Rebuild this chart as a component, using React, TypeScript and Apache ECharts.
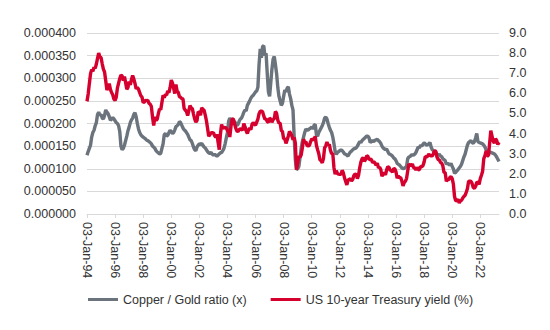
import React, { useEffect, useRef } from "react";
import * as echarts from "echarts";

// Monthly observations, Jan-1994 .. May-2023
const copperGoldRatio: number[] = [
  // 1994
  1.30e-4, 1.38e-4, 1.45e-4, 1.52e-4, 1.70e-4, 1.80e-4, 1.85e-4, 1.95e-4, 2.02e-4, 2.20e-4, 2.25e-4, 2.18e-4,
  // 1995
  2.20e-4, 2.12e-4, 2.10e-4, 2.18e-4, 2.30e-4, 2.25e-4, 2.22e-4, 2.15e-4, 2.07e-4, 2.10e-4, 2.13e-4, 2.10e-4,
  // 1996
  2.06e-4, 2.02e-4, 2.00e-4, 1.95e-4, 1.82e-4, 1.50e-4, 1.42e-4, 1.45e-4, 1.52e-4, 1.62e-4, 1.72e-4, 1.84e-4,
  // 1997
  1.92e-4, 2.02e-4, 2.08e-4, 2.12e-4, 2.20e-4, 2.24e-4, 2.15e-4, 2.00e-4, 1.88e-4, 1.80e-4, 1.75e-4, 1.72e-4,
  // 1998
  1.70e-4, 1.68e-4, 1.66e-4, 1.63e-4, 1.62e-4, 1.60e-4, 1.58e-4, 1.55e-4, 1.50e-4, 1.48e-4, 1.45e-4, 1.40e-4,
  // 1999
  1.37e-4, 1.35e-4, 1.33e-4, 1.34e-4, 1.45e-4, 1.55e-4, 1.75e-4, 1.78e-4, 1.72e-4, 1.74e-4, 1.80e-4, 1.85e-4,
  // 2000
  1.82e-4, 1.78e-4, 1.80e-4, 1.86e-4, 1.93e-4, 1.95e-4, 1.98e-4, 2.04e-4, 2.02e-4, 1.96e-4, 1.90e-4, 1.86e-4,
  // 2001
  1.84e-4, 1.80e-4, 1.76e-4, 1.70e-4, 1.64e-4, 1.62e-4, 1.56e-4, 1.48e-4, 1.42e-4, 1.40e-4, 1.48e-4, 1.52e-4,
  // 2002
  1.55e-4, 1.54e-4, 1.56e-4, 1.52e-4, 1.48e-4, 1.46e-4, 1.42e-4, 1.38e-4, 1.35e-4, 1.34e-4, 1.36e-4, 1.32e-4,
  // 2003
  1.30e-4, 1.32e-4, 1.30e-4, 1.28e-4, 1.30e-4, 1.33e-4, 1.35e-4, 1.36e-4, 1.40e-4, 1.45e-4, 1.55e-4, 1.68e-4,
  // 2004
  1.80e-4, 2.05e-4, 2.12e-4, 2.08e-4, 2.00e-4, 2.02e-4, 2.05e-4, 2.00e-4, 1.96e-4, 1.98e-4, 2.05e-4, 2.10e-4,
  // 2005
  2.12e-4, 2.18e-4, 2.25e-4, 2.30e-4, 2.28e-4, 2.40e-4, 2.45e-4, 2.50e-4, 2.56e-4, 2.60e-4, 2.62e-4, 2.66e-4,
  // 2006
  2.70e-4, 2.72e-4, 2.80e-4, 3.30e-4, 3.65e-4, 3.45e-4, 3.70e-4, 3.72e-4, 3.50e-4, 3.55e-4, 3.10e-4, 2.70e-4,
  // 2007
  2.60e-4, 2.90e-4, 3.20e-4, 3.42e-4, 3.48e-4, 3.30e-4, 3.10e-4, 2.80e-4, 2.60e-4, 2.50e-4, 2.40e-4, 2.45e-4,
  // 2008
  2.60e-4, 2.74e-4, 2.70e-4, 2.78e-4, 2.81e-4, 2.65e-4, 2.55e-4, 2.40e-4, 2.30e-4, 1.70e-4, 1.20e-4, 0.98e-4,
  // 2009
  1.00e-4, 1.05e-4, 1.25e-4, 1.45e-4, 1.60e-4, 1.70e-4, 1.80e-4, 1.88e-4, 1.85e-4, 1.86e-4, 1.88e-4, 1.90e-4,
  // 2010
  1.92e-4, 1.88e-4, 1.96e-4, 1.98e-4, 1.75e-4, 1.72e-4, 1.80e-4, 1.85e-4, 1.90e-4, 1.95e-4, 2.02e-4, 2.12e-4,
  // 2011
  2.14e-4, 2.10e-4, 2.00e-4, 1.92e-4, 1.85e-4, 1.80e-4, 1.70e-4, 1.55e-4, 1.38e-4, 1.32e-4, 1.36e-4, 1.38e-4,
  // 2012
  1.40e-4, 1.42e-4, 1.40e-4, 1.37e-4, 1.33e-4, 1.32e-4, 1.30e-4, 1.28e-4, 1.33e-4, 1.37e-4, 1.39e-4, 1.42e-4,
  // 2013
  1.44e-4, 1.45e-4, 1.46e-4, 1.50e-4, 1.55e-4, 1.60e-4, 1.58e-4, 1.62e-4, 1.65e-4, 1.67e-4, 1.70e-4, 1.72e-4,
  // 2014
  1.72e-4, 1.68e-4, 1.58e-4, 1.60e-4, 1.62e-4, 1.60e-4, 1.63e-4, 1.64e-4, 1.65e-4, 1.62e-4, 1.60e-4, 1.56e-4,
  // 2015
  1.50e-4, 1.46e-4, 1.44e-4, 1.42e-4, 1.44e-4, 1.38e-4, 1.33e-4, 1.32e-4, 1.30e-4, 1.28e-4, 1.24e-4, 1.22e-4,
  // 2016
  1.18e-4, 1.12e-4, 1.10e-4, 1.08e-4, 1.05e-4, 1.02e-4, 1.00e-4, 1.01e-4, 1.03e-4, 1.05e-4, 1.22e-4, 1.26e-4,
  // 2017
  1.27e-4, 1.30e-4, 1.31e-4, 1.30e-4, 1.32e-4, 1.36e-4, 1.42e-4, 1.48e-4, 1.46e-4, 1.52e-4, 1.50e-4, 1.54e-4,
  // 2018
  1.57e-4, 1.55e-4, 1.52e-4, 1.53e-4, 1.55e-4, 1.58e-4, 1.48e-4, 1.42e-4, 1.40e-4, 1.38e-4, 1.36e-4, 1.32e-4,
  // 2019
  1.30e-4, 1.32e-4, 1.28e-4, 1.27e-4, 1.22e-4, 1.20e-4, 1.18e-4, 1.10e-4, 1.12e-4, 1.10e-4, 1.08e-4, 1.12e-4,
  // 2020
  1.05e-4, 1.00e-4, 0.90e-4, 0.92e-4, 0.95e-4, 0.98e-4, 1.02e-4, 1.05e-4, 1.10e-4, 1.18e-4, 1.26e-4, 1.32e-4,
  // 2021
  1.42e-4, 1.52e-4, 1.58e-4, 1.60e-4, 1.62e-4, 1.58e-4, 1.56e-4, 1.60e-4, 1.68e-4, 1.78e-4, 1.60e-4, 1.58e-4,
  // 2022
  1.57e-4, 1.56e-4, 1.55e-4, 1.52e-4, 1.48e-4, 1.42e-4, 1.38e-4, 1.40e-4, 1.36e-4, 1.36e-4, 1.35e-4, 1.34e-4,
  // 2023
  1.33e-4, 1.30e-4, 1.26e-4, 1.21e-4, 1.16e-4,
];

const us10yYield: number[] = [
  // 1994
  5.60, 5.97, 6.48, 6.97, 7.18, 7.10, 7.30, 7.24, 7.46, 7.74, 8.00, 7.81,
  // 1995
  7.78, 7.47, 7.20, 7.06, 6.63, 6.17, 6.28, 6.49, 6.20, 6.04, 5.93, 5.71,
  // 1996
  5.65, 5.81, 6.27, 6.51, 6.74, 6.91, 6.87, 6.64, 6.83, 6.53, 6.20, 6.30,
  // 1997
  6.58, 6.42, 6.69, 6.89, 6.71, 6.49, 6.22, 6.30, 6.21, 6.03, 5.88, 5.81,
  // 1998
  5.54, 5.57, 5.65, 5.64, 5.65, 5.50, 5.46, 5.34, 4.81, 4.40, 4.83, 4.65,
  // 1999
  4.72, 5.00, 5.23, 5.18, 5.54, 5.90, 5.79, 5.94, 5.92, 6.11, 6.03, 6.28,
  // 2000
  6.66, 6.52, 6.26, 5.99, 6.44, 6.10, 6.05, 5.83, 5.80, 5.74, 5.72, 5.24,
  // 2001
  5.16, 5.10, 4.89, 5.14, 5.39, 5.28, 5.24, 4.97, 4.73, 4.57, 4.65, 5.09,
  // 2002
  5.04, 4.91, 5.28, 5.21, 5.16, 4.93, 4.65, 4.26, 3.87, 3.94, 4.05, 4.03,
  // 2003
  4.05, 3.90, 3.81, 3.96, 3.57, 3.20, 3.98, 4.45, 4.27, 4.29, 4.30, 4.27,
  // 2004
  4.15, 4.08, 3.83, 4.35, 4.72, 4.73, 4.50, 4.28, 4.13, 4.10, 4.19, 4.23,
  // 2005
  4.22, 4.17, 4.50, 4.34, 4.14, 4.00, 4.18, 4.26, 4.20, 4.46, 4.54, 4.47,
  // 2006
  4.42, 4.57, 4.72, 4.99, 5.11, 5.11, 5.09, 4.88, 4.72, 4.73, 4.60, 4.56,
  // 2007
  4.76, 4.72, 4.56, 4.69, 4.75, 5.10, 5.00, 4.67, 4.52, 4.53, 4.15, 4.10,
  // 2008
  3.74, 3.74, 3.51, 3.68, 3.88, 4.10, 4.01, 3.89, 3.69, 3.81, 3.53, 2.20,
  // 2009
  2.52, 2.87, 2.82, 2.93, 3.29, 3.72, 3.56, 3.59, 3.40, 3.39, 3.40, 3.59,
  // 2010
  3.73, 3.69, 3.73, 3.85, 3.42, 3.20, 3.01, 2.70, 2.65, 2.54, 2.76, 3.29,
  // 2011
  3.39, 3.58, 3.41, 3.46, 3.17, 3.00, 3.00, 2.30, 1.98, 2.15, 2.01, 1.98,
  // 2012
  1.97, 1.97, 2.17, 2.05, 1.80, 1.62, 1.45, 1.68, 1.72, 1.75, 1.65, 1.72,
  // 2013
  1.91, 1.98, 1.96, 1.76, 1.93, 2.30, 2.58, 2.74, 2.81, 2.62, 2.72, 2.90,
  // 2014
  2.86, 2.71, 2.72, 2.71, 2.56, 2.60, 2.54, 2.42, 2.53, 2.30, 2.33, 2.21,
  // 2015
  1.88, 1.98, 2.04, 1.94, 2.20, 2.36, 2.32, 2.17, 2.17, 2.07, 2.26, 2.24,
  // 2016
  2.09, 1.78, 1.89, 1.81, 1.81, 1.64, 1.40, 1.56, 1.63, 1.76, 2.14, 2.49,
  // 2017
  2.43, 2.42, 2.48, 2.30, 2.30, 2.19, 2.32, 2.21, 2.20, 2.36, 2.35, 2.40,
  // 2018
  2.58, 2.86, 2.84, 2.87, 2.98, 2.91, 2.89, 2.89, 3.00, 3.15, 3.12, 2.83,
  // 2019
  2.71, 2.68, 2.57, 2.53, 2.40, 2.07, 2.06, 1.63, 1.70, 1.71, 1.81, 1.86,
  // 2020
  1.76, 1.50, 0.87, 0.66, 0.67, 0.73, 0.55, 0.65, 0.68, 0.79, 0.87, 0.93,
  // 2021
  1.08, 1.26, 1.61, 1.64, 1.62, 1.52, 1.32, 1.28, 1.37, 1.58, 1.56, 1.47,
  // 2022
  1.76, 1.93, 2.13, 2.75, 2.90, 3.14, 2.90, 2.90, 3.52, 4.15, 3.89, 3.62,
  // 2023
  3.53, 3.75, 3.66, 3.46, 3.57,
];

const monthNames = ["Jan", "Feb", "Mar", "Apr", "May", "Jun", "Jul", "Aug", "Sep", "Oct", "Nov", "Dec"];
const startYear = 1994;
const categories: string[] = copperGoldRatio.map((_, i) => {
  const y = startYear + Math.floor(i / 12);
  return `03-${monthNames[i % 12]}-${String(y % 100).padStart(2, "0")}`;
});

const seriesNames = ["Copper / Gold ratio (x)", "US 10-year Treasury yield (%)"];
const FONT = "'Liberation Sans', Arial, sans-serif";
const TXT = "#333333";
const GREY = "#6b737c";
const RED = "#d6002f";

export default function App() {
  const ref = useRef<HTMLDivElement>(null);
  useEffect(() => {
    if (!ref.current) return;
    const chart = echarts.init(ref.current, null, { renderer: "svg" });
    const every2y = (idx: number) => idx % 24 === 0;
    chart.setOption({
      animation: false,
      backgroundColor: "#ffffff",
      textStyle: { fontFamily: FONT },
      grid: { left: 87, right: 51, top: 33, bottom: 116, containLabel: false },
      legend: {
        data: [
          { name: seriesNames[0], icon: "rect", itemStyle: { color: GREY } },
          { name: seriesNames[1], icon: "rect", itemStyle: { color: RED } },
        ],
        left: 83,
        top: 288,
        itemWidth: 30,
        itemHeight: 3,
        itemGap: 24,
        textStyle: { fontFamily: FONT, fontSize: 12.5, color: TXT },
      },
      xAxis: {
        type: "category",
        data: categories,
        boundaryGap: false,
        axisLine: { lineStyle: { color: "#d9d9d9", width: 1 } },
        axisTick: { show: true, interval: every2y, length: 4, lineStyle: { color: "#d9d9d9" } },
        axisLabel: {
          interval: every2y,
          rotate: -90,
          margin: 8,
          fontFamily: FONT,
          fontSize: 12.5,
          color: TXT,
        },
        splitLine: { show: false },
      },
      yAxis: [
        {
          type: "value",
          min: 0,
          max: 0.0004,
          interval: 0.00005,
          axisLine: { show: false },
          axisTick: { show: false },
          axisLabel: {
            margin: 11,
            fontFamily: FONT,
            fontSize: 12.5,
            color: TXT,
            formatter: (v: number) => v.toFixed(6),
          },
          splitLine: { lineStyle: { color: "#d9d9d9", width: 1 } },
        },
        {
          type: "value",
          position: "right",
          min: 0,
          max: 9,
          interval: 1,
          axisLine: { show: false },
          axisTick: { show: false },
          axisLabel: {
            margin: 10,
            fontFamily: FONT,
            fontSize: 12.5,
            color: TXT,
            formatter: (v: number) => v.toFixed(1),
          },
          splitLine: { show: false },
        },
      ],
      series: [
        {
          name: seriesNames[0],
          type: "line",
          yAxisIndex: 0,
          data: copperGoldRatio,
          showSymbol: false,
          symbol: "none",
          lineStyle: { color: GREY, width: 3.4 },
          itemStyle: { color: GREY },
        },
        {
          name: seriesNames[1],
          type: "line",
          yAxisIndex: 1,
          data: us10yYield,
          showSymbol: false,
          symbol: "none",
          lineStyle: { color: RED, width: 3.4 },
          itemStyle: { color: RED },
        },
      ],
    });
    return () => chart.dispose();
  }, []);
  return (
    <div
      ref={ref}
      style={{ position: "fixed", left: 0, top: 0, width: 550, height: 330, background: "#fff" }}
    />
  );
}
